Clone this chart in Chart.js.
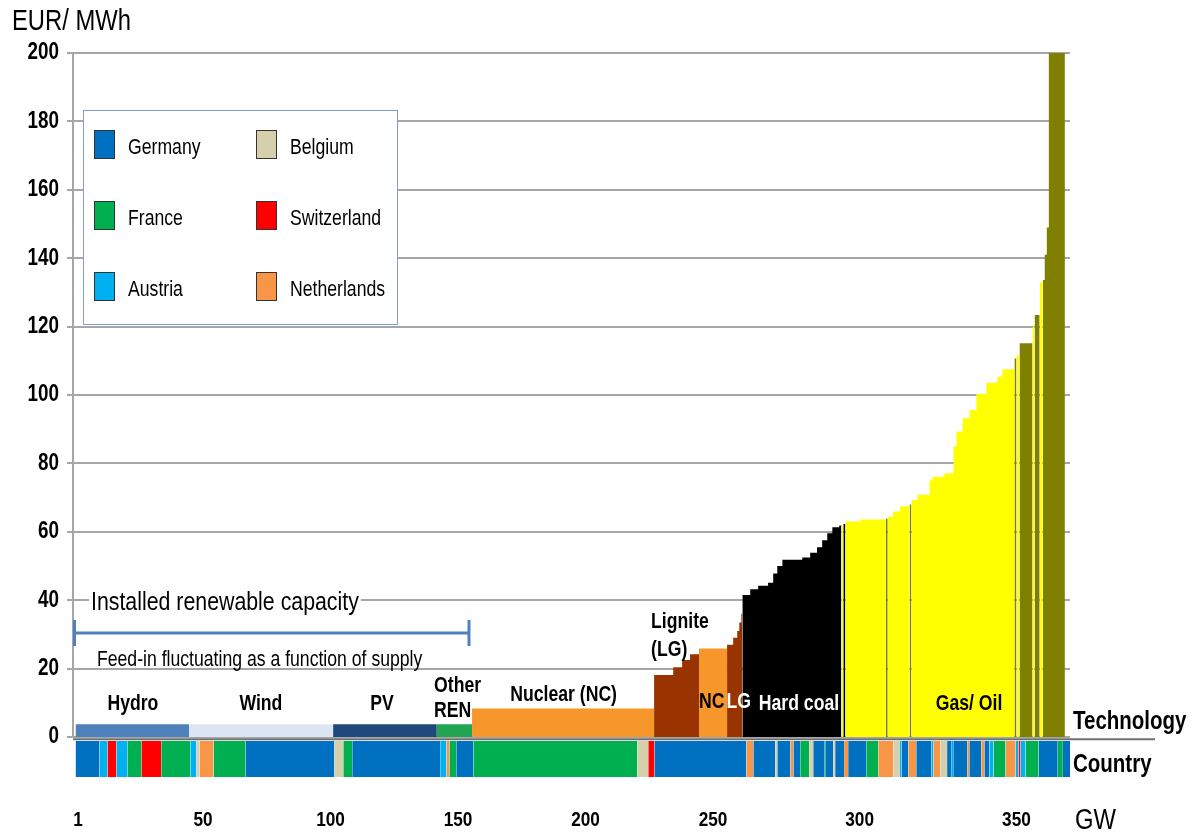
<!DOCTYPE html>
<html>
<head>
<meta charset="utf-8">
<title>Merit order</title>
<script src="https://cdn.jsdelivr.net/npm/chart.js@4.4.1/dist/chart.umd.min.js"></script>
<style>
    html, body { margin: 0; padding: 0; background: #fff; }
</style>
</head>
<body>
<canvas id="chart" width="1193" height="835"></canvas>
<script>
// renewables, price ~0, shown only as the technology strip (GW)
const renewTech = ['Hydro', 'Wind', 'PV', 'Other REN'];
const renewGW = [44.5, 56.5, 40.7, 13.8];

// merit order after the renewables: technology, capacity (GW), cost (EUR/MWh)
const meritTech = [
    'Nuclear', 'Lignite', 'Lignite', 'Lignite', 'Lignite', 'Nuclear',
    'Lignite', 'Lignite', 'Lignite', 'Lignite', 'Lignite',
    'Hard coal', 'Hard coal', 'Hard coal', 'Hard coal', 'Hard coal', 'Hard coal', 'Hard coal',
    'Hard coal', 'Hard coal', 'Hard coal', 'Hard coal', 'Hard coal', 'Hard coal', 'Hard coal',
    'Gas', 'Hard coal', 'Gas', 'Gas', 'Oil', 'Gas', 'Gas', 'Gas', 'Oil',
    'Gas', 'Gas', 'Gas', 'Gas', 'Gas', 'Gas', 'Gas', 'Gas', 'Gas', 'Gas', 'Gas', 'Gas', 'Gas',
    'Oil', 'Gas', 'Oil', 'Gas', 'Oil', 'Gas', 'Oil', 'Oil', 'Oil', 'Oil'
];
const meritGW = [
    71.4, 7.5, 3.5, 3.1, 3.5, 11.0,
    2.4, 1.6, 0.8, 0.8, 0.4,
    3.1, 3.1, 3.9, 2.0, 1.6, 2.0, 7.8,
    3.1, 2.7, 2.0, 2.0, 2.0, 2.7, 0.8,
    0.8, 0.8, 5.9, 10.0, 0.7, 2.1, 2.7, 3.8, 0.7,
    2.4, 4.7, 1.2, 4.7, 3.5, 1.2, 2.4, 2.7, 2.7, 3.9, 4.3, 2.0, 4.7,
    0.8, 1.2, 5.1, 0.8, 2.0, 1.2, 0.8, 0.8, 0.8, 6.3
];
const meritPrice = [
    8.3, 18.1, 20.4, 22.5, 24.2, 25.9,
    27, 29, 31, 33.5, 36,
    41.5, 43.2, 44.2, 45.1, 47.8, 50, 51.8,
    52.5, 53.9, 55.5, 57.5, 59.6, 61.3, 61.8,
    62, 62.3, 63, 63.6, 63.8, 64.4, 65.9, 67.5, 68,
    69.3, 70.8, 75.1, 76.1, 77.1, 84.9, 89.3, 93.2, 95.6, 100.3, 103.6, 105.3, 107.5,
    110.7, 111.7, 115.1, 120, 123.4, 133, 133.6, 141, 149, 200
];

// country of each block along the curve (GW)
const stripCountry = [
    'Germany', 'Austria', 'Switzerland', 'Austria', 'France', 'Switzerland', 'France', 'Austria',
    'Belgium', 'Netherlands', 'France', 'Germany', 'Belgium', 'France', 'Germany', 'Austria',
    'Netherlands', 'France', 'Germany', 'France', 'Belgium', 'Switzerland', 'Germany', 'Netherlands',
    'Germany', 'Belgium', 'Germany', 'Netherlands', 'Germany', 'France', 'Belgium', 'Germany',
    'France', 'Germany', 'Belgium', 'Germany', 'Netherlands', 'Germany', 'France', 'Netherlands',
    'Belgium', 'Austria', 'Germany', 'Netherlands', 'Germany', 'Austria', 'Netherlands', 'Belgium',
    'Germany', 'Austria', 'Germany', 'Netherlands', 'Germany', 'Netherlands', 'Germany', 'Austria',
    'France', 'Netherlands', 'Austria', 'Switzerland', 'Austria', 'France', 'Germany', 'France',
    'Germany'
];
const stripGW = [
    9.4, 3.1, 3.5, 4.3, 5.5, 7.8, 11.4, 2.4,
    1.2, 5.5, 12.5, 34.9, 3.5, 3.5, 34.5, 2.4,
    1.2, 2.7, 6.7, 64.3, 4.3, 2.4, 36.1, 2.7,
    8.6, 0.8, 5.1, 1.2, 2.7, 3.5, 1.6, 4.3,
    0.4, 3.1, 0.8, 3.5, 1.6, 7.1, 4.7, 5.9,
    2.4, 0.8, 2.7, 3.1, 5.9, 0.8, 2.7, 2.7,
    1.6, 0.8, 5.5, 0.8, 4.7, 1.2, 2.0, 1.6,
    4.7, 3.9, 1.2, 0.8, 2.0, 5.1, 7.5, 2.0,
    3.1
];

const countries = ['Germany', 'France', 'Austria', 'Belgium', 'Switzerland', 'Netherlands'];
const countryColors = ['#0070c0', '#00b050', '#00b0f0', '#d6cfac', '#ff0000', '#f79646'];

const yTicks = [0, 20, 40, 60, 80, 100, 120, 140, 160, 180, 200];
// x labels where the source figure prints them
const xTickAt = [1, 50, 100, 150, 200, 250, 307.5, 369];
const xTickLabels = ['1', '50', '100', '150', '200', '250', '300', '350'];

const techColors = {
    'Hydro': '#4f81bd',
    'Wind': '#dce6f2',
    'PV': '#1f497d',
    'Other REN': '#21a550',
    'Nuclear': '#f7962a',
    'Lignite': '#993300',
    'Hard coal': '#000000',
    'Gas': '#ffff00',
    'Oil': '#808000'
};

const SQUEEZE = 0.82;
const FONT = '"Liberation Sans", Arial, sans-serif';
const TECH_STRIP = 3.7;
const COUNTRY_TOP = -1.2;
const COUNTRY_BOTTOM = -11.7;

function block(points, color, fill) {
    return {
        data: points,
        stepped: true,
        fill: fill,
        backgroundColor: color,
        borderColor: 'rgba(0,0,0,0)',
        borderWidth: 0,
        pointRadius: 0
    };
}

const datasets = [];
let pos = 0;

renewTech.forEach((t, i) => {
    datasets.push(block([{ x: pos, y: TECH_STRIP }, { x: pos + renewGW[i], y: TECH_STRIP }], techColors[t], 'origin'));
    pos += renewGW[i];
});

let i = 0;
while (i < meritTech.length) {
    const t = meritTech[i];
    const pts = [];
    while (i < meritTech.length && meritTech[i] === t) {
        pts.push({ x: pos, y: meritPrice[i] });
        pos += meritGW[i];
        i++;
    }
    pts.push({ x: pos, y: pts[pts.length - 1].y });
    datasets.push(block(pts, techColors[t], 'origin'));
}

let cpos = 0;
stripCountry.forEach((c, k) => {
    const color = countryColors[countries.indexOf(c)];
    datasets.push(block([{ x: cpos, y: COUNTRY_TOP }, { x: cpos + stripGW[k], y: COUNTRY_TOP }], color, { value: COUNTRY_BOTTOM }));
    cpos += stripGW[k];
});

const notes = [
    { text: 'Hydro', x: 22.5, y: 9.6 },
    { text: 'Wind', x: 72.7, y: 9.6 },
    { text: 'PV', x: 120.2, y: 9.6 },
    { text: 'Other', x: 140.6, y: 14.9, align: 'left' },
    { text: 'REN', x: 140.6, y: 7.6, align: 'left' },
    { text: 'Nuclear (NC)', x: 191.4, y: 12.3 },
    { text: 'Lignite', x: 225.7, y: 33.6, align: 'left' },
    { text: '(LG)', x: 225.7, y: 25.4, align: 'left' },
    { text: 'NC', x: 249.5, y: 10.3 },
    { text: 'LG', x: 260.1, y: 10.3, color: '#fff' },
    { text: 'Hard coal', x: 283.7, y: 9.6, color: '#fff' },
    { text: 'Gas/ Oil', x: 350.4, y: 9.6 }
];

function narrow(c, text, x, y, size, weight, color, align) {
    c.save();
    c.font = weight + ' ' + size + 'px ' + FONT;
    c.fillStyle = color;
    c.textAlign = align;
    c.textBaseline = 'middle';
    c.translate(x, y);
    c.scale(SQUEEZE, 1);
    c.fillText(text, 0, 0);
    c.restore();
}

function narrowWidth(c, text, size, weight) {
    c.save();
    c.font = weight + ' ' + size + 'px ' + FONT;
    const w = c.measureText(text).width * SQUEEZE;
    c.restore();
    return w;
}

const figureText = {
    id: 'figureText',
    beforeDatasetsDraw(chart) {
        const c = chart.ctx;
        const ys = chart.scales.y;
        const area = chart.chartArea;
        c.save();
        c.strokeStyle = '#a6a6a6';
        c.lineWidth = 2;
        c.beginPath();
        c.moveTo(area.left, ys.getPixelForValue(200) - 1);
        c.lineTo(area.left, ys.getPixelForValue(0) + 1);
        c.stroke();
        c.restore();
    },
    afterDatasetsDraw(chart) {
        const c = chart.ctx;
        const xs = chart.scales.x;
        const ys = chart.scales.y;
        const area = chart.chartArea;

        // separator between technology and country strips
        c.save();
        c.strokeStyle = '#6f6f6f';
        c.lineWidth = 2;
        c.beginPath();
        c.moveTo(area.left, ys.getPixelForValue(0) + 2.3);
        c.lineTo(area.right + 85, ys.getPixelForValue(0) + 2.3);
        c.stroke();
        c.restore();

        // axis labels
        ys.ticks.forEach(t => {
            if (t.value < 0) return;
            narrow(c, String(t.value), area.left - 14, ys.getPixelForValue(t.value), 23, 'bold', '#000', 'right');
        });
        xs.ticks.forEach((t, k) => {
            narrow(c, xTickLabels[k], xs.getPixelForValue(t.value), area.bottom + 42.5, 21, 'bold', '#000', 'center');
        });
        narrow(c, 'EUR/ MWh', 12, area.top - 31, 29, 'normal', '#000', 'left');
        narrow(c, 'GW', area.right + 5, area.bottom + 42.5, 29, 'normal', '#000', 'left');
        narrow(c, 'Technology', area.right + 3, ys.getPixelForValue(4.4), 25, 'bold', '#000', 'left');
        narrow(c, 'Country', area.right + 3, ys.getPixelForValue(-8.2), 25, 'bold', '#000', 'left');

        // technology names
        notes.forEach(n => {
            narrow(c, n.text, xs.getPixelForValue(n.x), ys.getPixelForValue(n.y), 21.5, 'bold', n.color || '#000', n.align || 'center');
        });

        // renewable capacity bracket
        const bx0 = xs.getPixelForValue(-1);
        const bx1 = xs.getPixelForValue(154.3);
        const by = ys.getPixelForValue(30.4);
        const cap = ys.getPixelForValue(30.4 - 3.8) - by;
        c.save();
        c.strokeStyle = '#4f81bd';
        c.lineWidth = 3;
        c.beginPath();
        c.moveTo(bx0 + 1.5, by - cap);
        c.lineTo(bx0 + 1.5, by + cap);
        c.moveTo(bx0, by);
        c.lineTo(bx1, by);
        c.moveTo(bx1, by - cap);
        c.lineTo(bx1, by + cap);
        c.stroke();
        c.restore();

        const instText = 'Installed renewable capacity';
        const ix = xs.getPixelForValue(6.06);
        const iy = ys.getPixelForValue(39.2);
        const iw = narrowWidth(c, instText, 26, 'normal');
        c.save();
        c.fillStyle = '#fff';
        c.fillRect(ix - 2, iy - 12, iw + 4, 24);
        c.restore();
        narrow(c, instText, ix, iy, 26, 'normal', '#000', 'left');
        narrow(c, 'Feed-in fluctuating as a function of supply', xs.getPixelForValue(8.4), ys.getPixelForValue(22.5), 21.5, 'normal', '#000', 'left');

        // country legend
        const lx = area.left + 10;
        const ly = area.top + 57;
        c.save();
        c.fillStyle = '#fff';
        c.fillRect(lx, ly, 314, 214);
        c.strokeStyle = '#7f9fd3';
        c.lineWidth = 1;
        c.strokeRect(lx + 0.5, ly + 0.5, 314, 214);
        c.restore();
        countries.forEach((name, k) => {
            const col = Math.floor(k / 3);
            const row = k % 3;
            const sx = lx + 11 + col * 162;
            const sy = ly + 20 + row * 71;
            c.save();
            c.fillStyle = countryColors[k];
            c.fillRect(sx, sy, 21, 29);
            c.strokeStyle = '#333';
            c.lineWidth = 1;
            c.strokeRect(sx + 0.5, sy + 0.5, 20, 28);
            c.restore();
            narrow(c, name, sx + 34, sy + 18, 21.5, 'normal', '#000', 'left');
        });
    }
};

const ctx = document.getElementById('chart');

const chart = new Chart(ctx, {
    type: 'line',
    data: { datasets: datasets },
    options: {
        responsive: false,
        animation: false,
        events: [],
        layout: {
            padding: { top: 53, right: 123, bottom: 0, left: 0 }
        },
        plugins: {
            legend: { display: false },
            tooltip: { enabled: false }
        },
        scales: {
            x: {
                type: 'linear',
                min: -1,
                max: 390,
                grid: { display: false },
                border: { display: false },
                ticks: { display: false },
                afterBuildTicks: (scale) => {
                    scale.ticks = xTickAt.map(v => ({ value: v }));
                },
                afterFit: (scale) => {
                    scale.height = 57;
                }
            },
            y: {
                type: 'linear',
                min: -12,
                max: 200,
                border: { display: false },
                grid: {
                    color: '#a6a6a6',
                    lineWidth: 2,
                    tickLength: 6
                },
                ticks: { display: false },
                afterBuildTicks: (scale) => {
                    scale.ticks = yTicks.map(v => ({ value: v }));
                },
                afterFit: (scale) => {
                    scale.width = 73;
                }
            }
        }
    },
    plugins: [figureText]
});
</script>
</body>
</html>
